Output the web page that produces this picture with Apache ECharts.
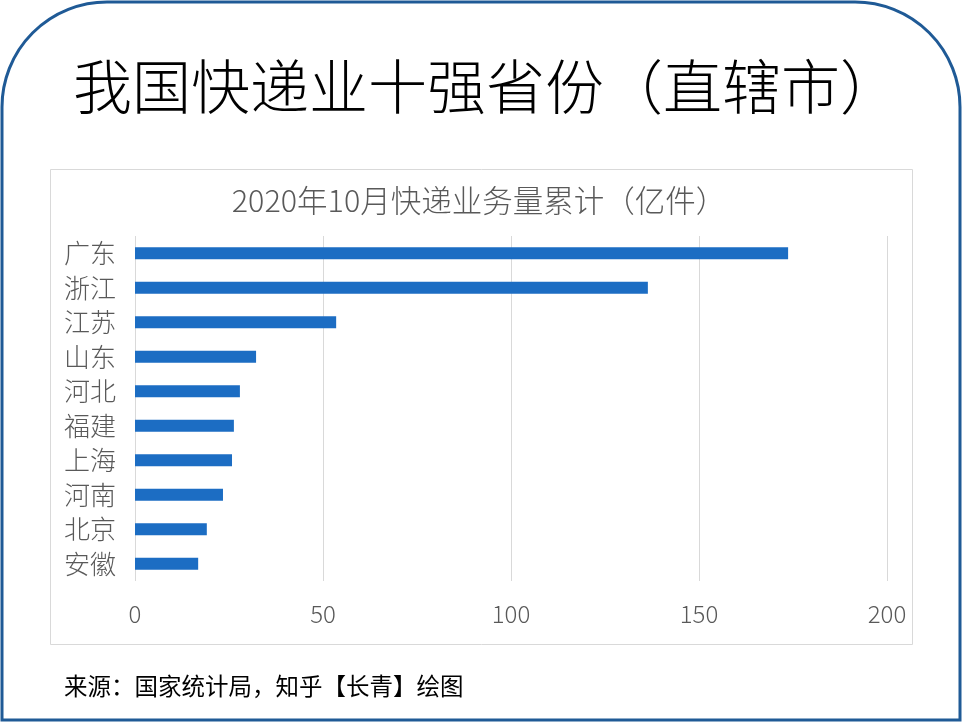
<!DOCTYPE html>
<html>
<head>
<meta charset="utf-8">
<script src="https://cdn.jsdelivr.net/npm/echarts@6/dist/echarts.min.js"></script>
<style>
html,body{margin:0;padding:0;background:#fff;}
#chart{width:963px;height:723px;}
</style>
</head>
<body>
<div id="chart"></div>
<script>
var provinces = ['广东','浙江','江苏','山东','河北','福建','上海','河南','北京','安徽'];
var volumes = [173.7, 136.4, 53.5, 32.2, 27.9, 26.3, 25.8, 23.4, 19.1, 16.8];
var xTicks = [0, 50, 100, 150, 200];
var mainTitle = '我国快递业十强省份（直辖市）';
var chartTitle = '2020年10月快递业务量累计（亿件）';
var sourceNote = '来源：国家统计局，知乎【长青】绘图';

var chart = echarts.init(document.getElementById('chart'), null, {renderer:'canvas'});
var cjk = '"Noto Sans CJK SC", "Noto Sans", sans-serif';
chart.setOption({
  backgroundColor: '#ffffff',
  animation: false,
  title: {
    text: chartTitle,
    left: 474, top: 180, textAlign: 'center',
    textStyle: {fontFamily: cjk, fontSize: 30.5, fontWeight: 300, color: '#595959'}
  },
  graphic: [
    {type:'rect', z:-1, shape:{x:2, y:2, width:958, height:718, r:[105,105,0,0]},
     style:{fill:'#fff', stroke:'#1f5a96', lineWidth:3}},
    {type:'rect', z:0, shape:{x:50.5, y:169.5, width:862, height:475},
     style:{fill:'#fff', stroke:'#d9d9d9', lineWidth:1}},
    {type:'text', left:73, top:57, z:5,
     style:{text: mainTitle, font:'300 59px "Noto Sans CJK SC", sans-serif', fill:'#000'}},
    {type:'text', left:64, top:674, z:5,
     style:{text: sourceNote, font:'normal 23.5px "Noto Sans CJK SC", sans-serif', fill:'#000'}}
  ],
  grid: {left:135, right:76, top:236, bottom:142, containLabel:false},
  xAxis: {
    type:'value', min: xTicks[0], max: xTicks[xTicks.length-1], interval: xTicks[1]-xTicks[0],
    axisLine:{show:false}, axisTick:{show:false},
    axisLabel:{margin:21, fontFamily:cjk, fontSize:24, fontWeight:300, color:'#595959'},
    splitLine:{show:true, lineStyle:{color:'#d9d9d9', width:1}}
  },
  yAxis: {
    type:'category', data: provinces, inverse:true,
    axisLine:{show:false}, axisTick:{show:false},
    axisLabel:{margin:19, fontFamily:cjk, fontSize:26, fontWeight:300, color:'#595959'}
  },
  series: [{
    type:'bar', data: volumes, barWidth:12,
    itemStyle:{color:'#1c6dc3'}
  }]
});
</script>
</body>
</html>
